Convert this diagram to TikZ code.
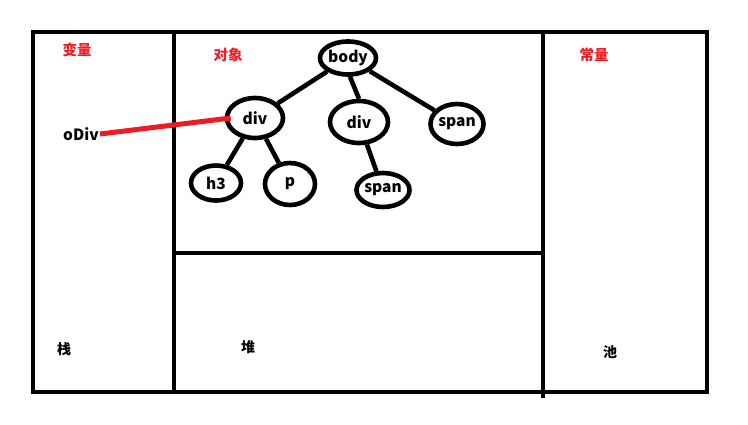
\documentclass[tikz,border=0pt]{standalone}
\usepackage{fontspec}
\setmainfont{Noto Sans CJK SC}
\usetikzlibrary{shapes.geometric}
\definecolor{redline}{RGB}{237,28,36}
\tikzset{
  elem/.style={ellipse, draw=black, line width=4.6pt, inner sep=0pt, font=\fontsize{15.5}{15.5}\selectfont\bfseries},
  link/.style={line width=4.6pt, black},
  frame/.style={line width=4.6pt, black},
  title/.style={font=\fontsize{14.5}{14.5}\selectfont\bfseries, text=redline},
  area/.style={font=\fontsize{14}{14}\selectfont\bfseries},
}
\begin{document}
\begin{tikzpicture}[x=1pt,y=-1pt]
\useasboundingbox (0,0) rectangle (748,424);
% frames
\draw[frame] (33,32) rectangle (707,392);
\draw[frame] (174,32) -- (174,392);
\draw[frame] (543,32) -- (543,398);
\draw[frame] (172,253) -- (543,253);
% titles
\node[title] (tvar) at (77,50) {变量};
\node[title] (tobj) at (228,55) {对象};
\node[title] (tconst) at (594,55) {常量};
\node[area] (stack) at (64,349) {栈};
\node[area] (heap) at (248,347) {堆};
\node[area] (pool) at (610,352) {池};
% tree
\node[elem, minimum width=56pt, minimum height=33pt] (body) at (348,58) {body};
\node[elem, minimum width=56pt, minimum height=40pt] (divl) at (255,118) {div};
\node[elem, minimum width=58pt, minimum height=42pt] (divm) at (359,122) {div};
\node[elem, minimum width=52pt, minimum height=40pt] (spanr) at (457,124) {span};
\node[elem, minimum width=50pt, minimum height=35pt] (h3) at (216,183) {h3};
\node[elem, minimum width=50pt, minimum height=42pt] (p) at (290,184) {p};
\node[elem, minimum width=50pt, minimum height=34pt] (spanb) at (383,190) {span};
\draw[link] (body) -- (divl);
\draw[link] (body.south) ++(2,0) coordinate (bs) (bs) -- (divm.north);
\draw[link] (body) -- (spanr);
\draw[link] (divl) -- (h3);
\draw[link] (divl) -- (p);
\draw[link] (divm) -- (spanb);
% variable
\node[font=\fontsize{15.5}{15.5}\selectfont\bfseries, inner sep=1pt] (odiv) at (81,134) {oDiv};
\draw[line width=5pt, redline] (odiv.east) -- ([xshift=6pt]divl.west);
\end{tikzpicture}
\end{document}
